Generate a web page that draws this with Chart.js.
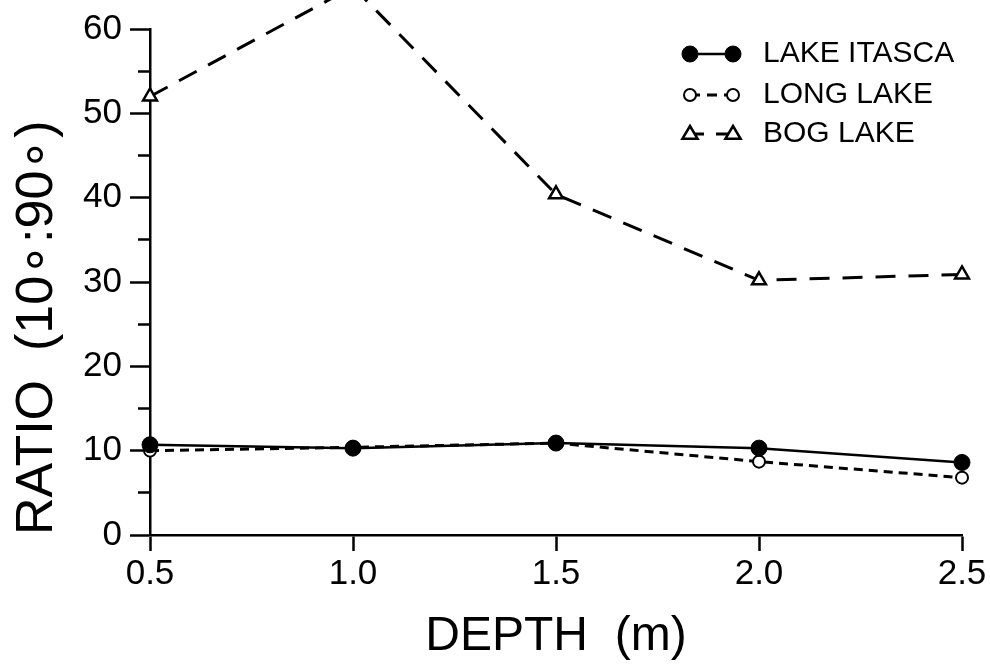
<!DOCTYPE html>
<html>
<head>
<meta charset="utf-8">
<script src="https://cdn.jsdelivr.net/npm/chart.js@4.4.1/dist/chart.umd.min.js"></script>
<style>
  html, body { margin: 0; padding: 0; background: #fff; }
  #c { display: block; }
</style>
</head>
<body>
<canvas id="c" width="990" height="668"></canvas>
<script>
(function () {
    'use strict';

    // depth categories (m)
    var depths = ['0.5', '1.0', '1.5', '2.0', '2.5'];
    // ratio 10°:90°
    var itasca = [10.7, 10.3, 10.9, 10.3, 8.6];
    var longLake = [10.0, 10.4, 10.9, 8.7, 6.8];
    var bogLake = [52.0, 65.0, 40.4, 30.2, 30.9];
    var seriesNames = ['LAKE ITASCA', 'LONG LAKE', 'BOG LAKE'];
    var yMin = 0, yMax = 60, yStep = 5, yLabelEvery = 10;

    var FONT = '"Liberation Sans", Arial, Helvetica, sans-serif';
    var INK = '#000';

    // marker + line + marker legend in the upper right
    var legendPlugin = {
        id: 'markLegend',
        afterDraw: function (chart) {
            var ctx = chart.ctx;
            var rows = [54, 95, 134];
            ctx.save();
            chart.data.datasets.forEach(function (ds, i) {
                var y = rows[i], x1 = 690, x2 = 733;
                ctx.strokeStyle = INK;
                ctx.lineWidth = ds.borderWidth;
                ctx.setLineDash(ds.legendDash || []);
                ctx.beginPath();
                ctx.moveTo(x1, y); ctx.lineTo(x2, y);
                ctx.stroke();
                ctx.setLineDash([]);
                [x1, x2].forEach(function (x) {
                    ctx.lineWidth = ds.pointBorderWidth;
                    ctx.fillStyle = ds.pointBackgroundColor;
                    ctx.beginPath();
                    if (ds.pointStyle === 'triangle') {
                        var r = ds.pointRadius;
                        ctx.moveTo(x, y - r);
                        ctx.lineTo(x + r * 0.95, y + r * 0.6);
                        ctx.lineTo(x - r * 0.95, y + r * 0.6);
                        ctx.closePath();
                    } else {
                        ctx.arc(x, y, ds.pointRadius, 0, Math.PI * 2);
                    }
                    ctx.fill();
                    ctx.stroke();
                });
                ctx.fillStyle = INK;
                ctx.font = '30px ' + FONT;
                ctx.textBaseline = 'middle';
                ctx.textAlign = 'left';
                ctx.fillText(ds.label, 763, y);
            });
            ctx.restore();
        }
    };

    new Chart(document.getElementById('c'), {
        type: 'line',
        data: {
            labels: depths,
            datasets: [
                { label: seriesNames[0], data: itasca, borderColor: INK, borderWidth: 2.5,
                  pointStyle: 'circle', pointRadius: 8, pointBackgroundColor: INK, pointBorderColor: INK,
                  pointBorderWidth: 1, tension: 0, clip: false },
                { label: seriesNames[1], data: longLake, borderColor: INK, borderWidth: 3, borderDash: [9, 6],
                  legendDash: [10, 7], pointStyle: 'circle', pointRadius: 6, pointBackgroundColor: '#fff',
                  pointBorderColor: INK, pointBorderWidth: 2, tension: 0, clip: false },
                { label: seriesNames[2], data: bogLake, borderColor: INK, borderWidth: 3, borderDash: [20, 13],
                  legendDash: [14, 12], pointStyle: 'triangle', pointRadius: 8, pointBackgroundColor: '#fff',
                  pointBorderColor: INK, pointBorderWidth: 2.5, tension: 0, clip: false }
            ]
        },
        options: {
            responsive: false,
            devicePixelRatio: 1,
            animation: false,
            layout: { padding: { top: 24, right: 28, left: 0, bottom: 0 } },
            plugins: { legend: { display: false }, tooltip: { enabled: false } },
            scales: {
                x: {
                    type: 'category',
                    offset: false,
                    border: { color: INK, width: 2.5 },
                    grid: { drawOnChartArea: false, tickLength: 16, tickWidth: 2.5, tickColor: INK },
                    ticks: { color: INK, font: { family: FONT, size: 35 }, padding: 2, maxRotation: 0 },
                    title: { display: true, text: 'DEPTH  (m)', color: INK,
                             font: { family: FONT, size: 48 }, padding: { top: 0, bottom: 2 } },
                    afterFit: function (s) { s.height = 133; }
                },
                y: {
                    min: yMin, max: yMax,
                    border: { color: INK, width: 2.5 },
                    grid: {
                        drawOnChartArea: false, tickLength: 20, tickWidth: 2.5, tickColor: INK,
                        tickBorderDash: function (c) {
                            return (c.tick && c.tick.value % yLabelEvery !== 0) ? [0, 8, 12] : [];
                        }
                    },
                    ticks: {
                        stepSize: yStep, autoSkip: false, color: INK, padding: 8,
                        font: { family: FONT, size: 35 },
                        callback: function (v) { return v % yLabelEvery === 0 ? String(v) : ''; }
                    },
                    title: { display: true, text: 'RATIO  (10\u2218:90\u2218)', color: INK, align: 'start',
                             font: { family: FONT, size: 52 }, padding: { top: 6, bottom: 0 } },
                    afterFit: function (s) { s.width = 150; }
                }
            }
        },
        plugins: [legendPlugin]
    });
})();
</script>
</body>
</html>
